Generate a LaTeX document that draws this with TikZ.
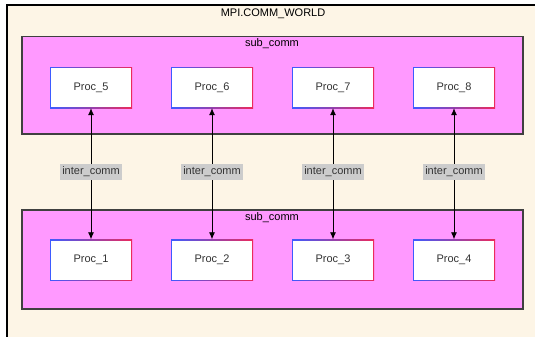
\documentclass[tikz,border=0pt]{standalone}
\usepackage{fontspec}
\setmainfont{Liberation Sans}
\usetikzlibrary{arrows.meta}
\definecolor{worldbg}{HTML}{FDF5E6}
\definecolor{commbg}{HTML}{FF99FF}
\definecolor{commline}{HTML}{404040}
\definecolor{procblue}{HTML}{3D5BFF}
\definecolor{procred}{HTML}{EC2A5C}
\definecolor{lblgray}{HTML}{CCCCCC}
\definecolor{txt}{HTML}{333333}
\begin{document}
\begin{tikzpicture}[x=1pt, y=-1pt, >={Latex[length=7pt,width=6pt]},
    font=\fontsize{11}{13}\selectfont,
    comm/.style={draw=commline, line width=1.3pt, fill=commbg, minimum width=501pt},
    proc/.style={minimum width=82pt, minimum height=41pt, text=txt,
        path picture={
            \shade[left color=procblue, right color=procred]
                (path picture bounding box.south west) rectangle (path picture bounding box.north east);
            \fill[white] ([shift={(1pt,1pt)}]path picture bounding box.south west)
                rectangle ([shift={(-1pt,-1pt)}]path picture bounding box.north east);
        }},
    lbl/.style={fill=lblgray, text=txt, inner xsep=2pt, inner ysep=3pt}]
    \useasboundingbox (0,0) rectangle (535,337);

    % World
    \begin{scope}
        \clip (0,0) rectangle (535,337);
        \fill[worldbg] (7,5) rectangle (560,360);
        \draw[line width=2pt] (7,360) -- (7,5) -- (560,5);
    \end{scope}
    \node[text=black] (world) at (273,14) {MPI.COMM\_WORLD};

    % Sub communicators
    \node[comm, minimum height=97.5pt] (upper) at (272.5,85.25) {};
    \node[text=black] (upperlbl) at (272,44) {sub\_comm};
    \node[comm, minimum height=99pt] (lower) at (272.5,259.5) {};
    \node[text=black] (lowerlbl) at (272,218) {sub\_comm};

    % Processes
    \node[proc] (p5) at (91,87.5) {Proc\_5};
    \node[proc] (p6) at (212,87.5) {Proc\_6};
    \node[proc] (p7) at (333,87.5) {Proc\_7};
    \node[proc] (p8) at (454,87.5) {Proc\_8};

    \node[proc] (p1) at (91,260) {Proc\_1};
    \node[proc] (p2) at (212,260) {Proc\_2};
    \node[proc] (p3) at (333,260) {Proc\_3};
    \node[proc] (p4) at (454,260) {Proc\_4};

    % Inter communicators
    \draw[<->, line width=0.8pt] (p5) -- (p1) node[lbl, pos=0.485] {inter\_comm};
    \draw[<->, line width=0.8pt] (p6) -- (p2) node[lbl, pos=0.485] {inter\_comm};
    \draw[<->, line width=0.8pt] (p7) -- (p3) node[lbl, pos=0.485] {inter\_comm};
    \draw[<->, line width=0.8pt] (p8) -- (p4) node[lbl, pos=0.485] {inter\_comm};
\end{tikzpicture}
\end{document}
